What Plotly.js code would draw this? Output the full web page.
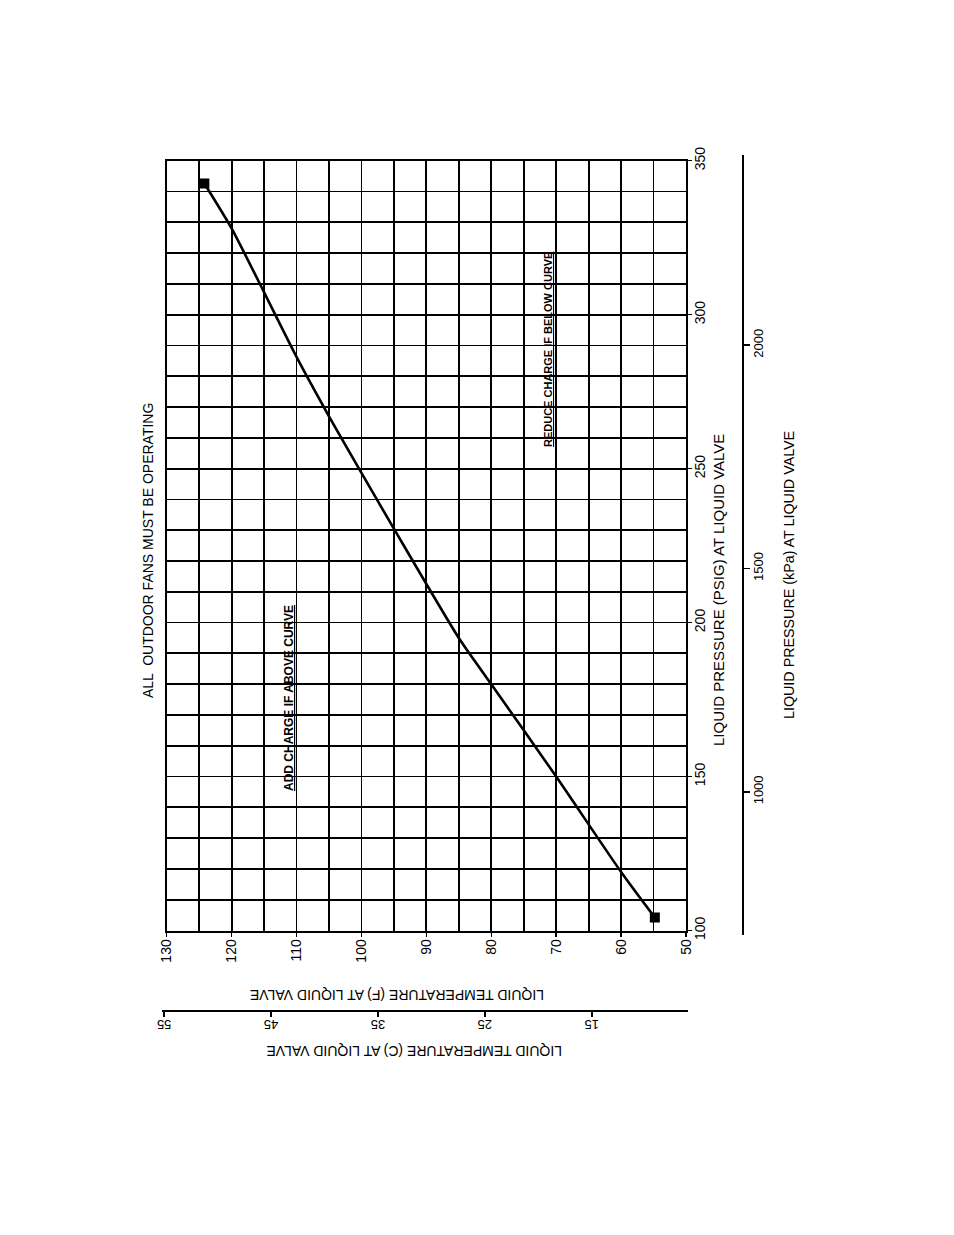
<!DOCTYPE html>
<html><head><meta charset="utf-8">
<script src="https://cdn.plot.ly/plotly-3.0.1.min.js"></script>
<style>html,body{margin:0;padding:0;background:#fff}#chart{width:954px;height:1235px}</style>
</head><body><div id="chart"></div>
<script>
// Curve: liquid temperature (F) vs liquid pressure (psig)
const tempF = [54.8, 60, 70, 80, 85, 95, 100, 105, 110, 120, 124.2];
const pressurePsig = [104.2, 119, 150, 180, 195, 230.5, 248.6, 267, 286.3, 328, 342.6];
const tempTicksF = [130, 120, 110, 100, 90, 80, 70, 60, 50];
const psigTicks = [100, 150, 200, 250, 300, 350];
const kpaTicks = [1000, 1500, 2000];
const celsiusTicks = [55, 45, 35, 25, 15];
const PSI_TO_KPA = 6.89476;

const W = 954, H = 1235;
const px = v => v / W;
const py = v => 1 - v / H;
const FONT = "Liberation Sans, Arial, sans-serif";
const NARROW = "Liberation Sans Narrow, Arial Narrow, Liberation Sans, sans-serif";

const last = tempF.length - 1;
const traces = [
  {x: [celsiusTicks[0]], y: [kpaTicks[0]], xaxis: 'x2', yaxis: 'y2', mode: 'markers',
   marker: {opacity: 0}, hoverinfo: 'skip', showlegend: false},
  {x: tempF, y: pressurePsig, xaxis: 'x', yaxis: 'y', mode: 'lines',
   line: {color: '#000', width: 2.6, shape: 'spline', smoothing: 0.6}, hoverinfo: 'skip', showlegend: false},
  {x: [tempF[0], tempF[last]], y: [pressurePsig[0], pressurePsig[last]], xaxis: 'x', yaxis: 'y',
   mode: 'markers', marker: {symbol: 'square', size: 10, color: '#000'}, hoverinfo: 'skip', showlegend: false}
];

const layout = {
  width: W, height: H,
  margin: {l: 0, r: 0, t: 0, b: 0},
  paper_bgcolor: '#fff', plot_bgcolor: 'rgba(0,0,0,0)',
  font: {family: FONT, color: '#000', size: 13},
  showlegend: false,
  xaxis: {
    domain: [px(166.7), px(686)], range: [130, 50], anchor: 'y',
    tickvals: tempTicksF, ticktext: tempTicksF.map(String), tickangle: -90,
    ticks: 'outside', ticklen: 4, tickwidth: 1.5, tickcolor: '#000', ticklabelstandoff: -3,
    showgrid: true, gridcolor: '#000', gridwidth: 1.8,
    minor: {dtick: 5, showgrid: true, gridcolor: '#000', gridwidth: 1.8, ticks: ''},
    showline: true, linecolor: '#000', linewidth: 2.2, mirror: true,
    zeroline: false, tickfont: {family: FONT, size: 14}
  },
  yaxis: {
    domain: [py(930.5), py(160.7)], range: [100, 350], anchor: 'x', side: 'right',
    tickvals: psigTicks, ticktext: psigTicks.map(String), tickangle: -90,
    ticks: 'outside', ticklen: 4, tickwidth: 1.5, tickcolor: '#000', ticklabelstandoff: -4,
    showgrid: true, gridcolor: '#000', gridwidth: 1.8,
    minor: {dtick: 10, showgrid: true, gridcolor: '#000', gridwidth: 1.8, ticks: ''},
    showline: true, linecolor: '#000', linewidth: 2.2, mirror: true,
    zeroline: false, tickfont: {family: FONT, size: 14}
  },
  yaxis2: {
    domain: [py(935), py(155)], range: [98.54 * PSI_TO_KPA, 351.85 * PSI_TO_KPA],
    anchor: 'free', position: px(743), side: 'right',
    tickvals: kpaTicks, ticktext: kpaTicks.map(String), tickangle: -90,
    ticks: 'outside', ticklen: 6, tickwidth: 1.5, tickcolor: '#000', ticklabelstandoff: -3,
    showgrid: false, showline: true, linecolor: '#000', linewidth: 2,
    zeroline: false, tickfont: {family: FONT, size: 13}
  },
  xaxis2: {
    domain: [px(162), px(688)], range: [55.2, 6.0],
    anchor: 'free', position: py(1011), side: 'bottom',
    tickvals: celsiusTicks, ticktext: celsiusTicks.map(String), tickangle: 180,
    ticks: 'outside', ticklen: 5, tickwidth: 1.5, tickcolor: '#000',
    showgrid: false, showline: true, linecolor: '#000', linewidth: 2,
    zeroline: false, tickfont: {family: FONT, size: 13}
  },
  annotations: [
    {text: 'ALL  OUTDOOR FANS MUST BE OPERATING', x: px(148), y: py(551), xref: 'paper', yref: 'paper',
     textangle: -90, showarrow: false, font: {family: FONT, size: 14}, xanchor: 'center', yanchor: 'middle'},
    {text: '<span style="text-decoration:underline">ADD CHARGE IF ABOVE CURVE</span>', x: px(289), y: py(698), xref: 'paper', yref: 'paper',
     textangle: -90, showarrow: false, font: {family: NARROW, size: 12, weight: 'bold'}, xanchor: 'center', yanchor: 'middle'},
    {text: '<span style="text-decoration:underline">REDUCE CHARGE IF BELOW CURVE</span>', x: px(548), y: py(350), xref: 'paper', yref: 'paper',
     textangle: -90, showarrow: false, font: {family: NARROW, size: 11, weight: 'bold'}, xanchor: 'center', yanchor: 'middle'},
    {text: 'LIQUID PRESSURE (PSIG) AT LIQUID VALVE', x: px(718), y: py(590), xref: 'paper', yref: 'paper',
     textangle: -90, showarrow: false, font: {family: FONT, size: 15}, xanchor: 'center', yanchor: 'middle'},
    {text: 'LIQUID PRESSURE (kPa) AT LIQUID VALVE', x: px(789), y: py(575), xref: 'paper', yref: 'paper',
     textangle: -90, showarrow: false, font: {family: FONT, size: 14.3}, xanchor: 'center', yanchor: 'middle'},
    {text: 'LIQUID TEMPERATURE (F) AT LIQUID VALVE', x: px(397), y: py(995), xref: 'paper', yref: 'paper',
     textangle: 180, showarrow: false, font: {family: FONT, size: 14}, xanchor: 'center', yanchor: 'middle'},
    {text: 'LIQUID TEMPERATURE (C) AT LIQUID VALVE', x: px(414), y: py(1051), xref: 'paper', yref: 'paper',
     textangle: 180, showarrow: false, font: {family: FONT, size: 14}, xanchor: 'center', yanchor: 'middle'}
  ]
};

Plotly.newPlot('chart', traces, layout, {displayModeBar: false, staticPlot: true});
</script></body></html>
